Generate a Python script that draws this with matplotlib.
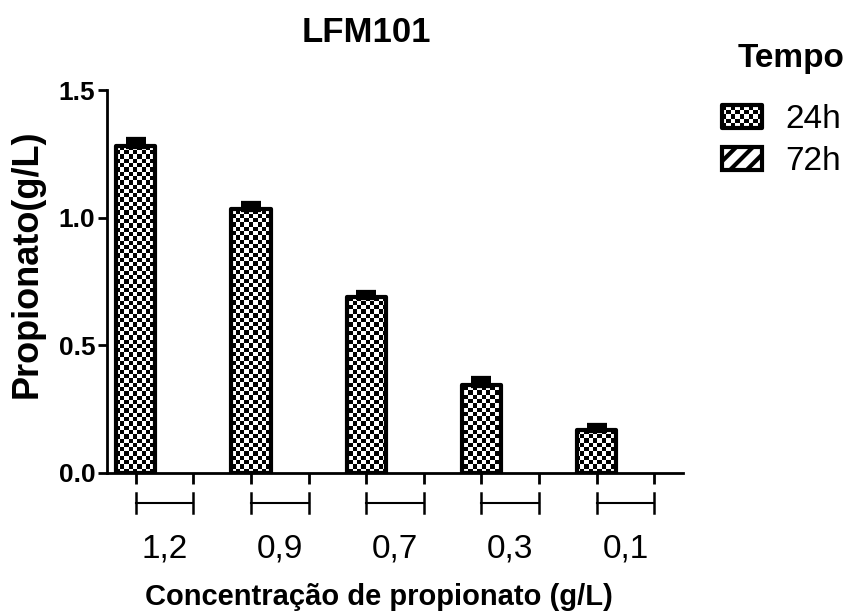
import numpy as np
import matplotlib

matplotlib.use("Agg")
import matplotlib.pyplot as plt  # noqa: E402
from matplotlib.patches import Rectangle, Patch  # noqa: E402
from matplotlib.legend_handler import HandlerBase  # noqa: E402
from matplotlib.image import BboxImage  # noqa: E402
from matplotlib.transforms import Bbox, TransformedBbox  # noqa: E402

plt.rcParams.update({"font.family": "Liberation Sans", "hatch.linewidth": 3.0})

# ---- data -------------------------------------------------------------------
groups = ["1,2", "0,9", "0,7", "0,3", "0,1"]
series = ["24h", "72h"]
mean_24h = [1.28, 1.034, 0.689, 0.345, 0.168]
err_24h = [0.024, 0.020, 0.016, 0.023, 0.016]
mean_72h = [np.nan, np.nan, np.nan, np.nan, np.nan]  # not measured / not plotted

INK = "black"
LW = 3.0


def checker(rows, cols):
    r, c = np.indices((rows, cols))
    return ((r + c) % 2).astype(float)


class CheckerHandler(HandlerBase):
    def create_artists(self, legend, orig, xd, yd, w, h, fs, trans):
        bb = TransformedBbox(Bbox.from_bounds(-xd, -yd, w, h), trans)
        img = BboxImage(bb, cmap="gray", interpolation="nearest", norm=plt.Normalize(0, 1))
        img.set_data(checker(5, 9))
        rect = Rectangle((-xd, -yd), w, h, fc="none", ec=INK, lw=LW, joinstyle="round",
                         transform=trans)
        return [img, rect]


fig = plt.figure(figsize=(8.54, 6.12), dpi=100)
ax = fig.add_axes([107 / 854, 1 - 473 / 612, 576 / 854, 383 / 612])

x = np.arange(len(groups))
off, bw = 0.5, 0.34
xlim, ylim = (-0.25, len(groups) - 0.25), (0, 1.5)

bars = ax.bar(x, mean_24h, bw, facecolor="none", edgecolor=INK, lw=LW, joinstyle="round", zorder=3)
ax.bar(x + off, mean_72h, bw, facecolor="white", edgecolor=INK, lw=LW, hatch="//", zorder=3)

pattern = checker(89, 134)
for b in bars:
    im = ax.imshow(pattern, extent=(*xlim, *ylim), origin="lower", cmap="gray",
                   interpolation="nearest", aspect="auto", zorder=2)
    im.set_clip_path(b)

ax.errorbar(x, mean_24h, yerr=[np.zeros(len(x)), err_24h], fmt="none", ecolor=INK,
            elinewidth=LW, capsize=7.5, capthick=4.5, zorder=4)

ax.set_xlim(*xlim)
ax.set_ylim(*ylim)
ax.set_yticks([0.0, 0.5, 1.0, 1.5])
ax.set_yticklabels(["0.0", "0.5", "1.0", "1.5"], fontsize=19, fontweight="bold")
ax.tick_params(axis="y", length=6.5, width=2, pad=2)
ax.set_xticks(np.concatenate([x, x + off]))
ax.set_xticklabels([])
ax.tick_params(axis="x", length=8, width=2)
ax.spines[["top", "right"]].set_visible(False)
ax.spines[["left", "bottom"]].set_linewidth(2)

# group brackets + labels under the axis
tr = ax.get_xaxis_transform()
for i, g in zip(x, groups):
    ax.plot([i, i + off], [-0.078, -0.078], color=INK, lw=1.5, transform=tr, clip_on=False)
    for xe in (i, i + off):
        ax.plot([xe, xe], [-0.052, -0.104], color=INK, lw=1.8, transform=tr, clip_on=False)
    ax.text(i + off / 2, -0.198, g, transform=tr, ha="center", va="center", fontsize=24)

fig.text(366 / 854, 1 - 32 / 612, "LFM101", ha="center", va="center", fontsize=25, fontweight="bold")
fig.text(379 / 854, 1 - 597 / 612, "Concentração de propionato (g/L)", ha="center", va="center",
         fontsize=21, fontweight="bold")
fig.text(27 / 854, 1 - 264 / 612, "Propionato(g/L)", ha="center", va="center", rotation=90,
         fontsize=26, fontweight="bold")

fig.text(791 / 854, 1 - 59 / 612, "Tempo", ha="center", va="center", fontsize=24, fontweight="bold")
handles = [Patch(facecolor="none", edgecolor=INK),
           Patch(facecolor="white", edgecolor=INK, lw=LW, hatch="//")]
fig.legend(handles, series, loc="upper left",
           bbox_to_anchor=(722 / 854, 1 - 104 / 612), frameon=False, fontsize=24,
           handlelength=1.2, handleheight=0.67, handletextpad=0.7, labelspacing=0.33,
           borderpad=0, borderaxespad=0, handler_map={handles[0]: CheckerHandler()})

fig.savefig("out.png", dpi=100)
